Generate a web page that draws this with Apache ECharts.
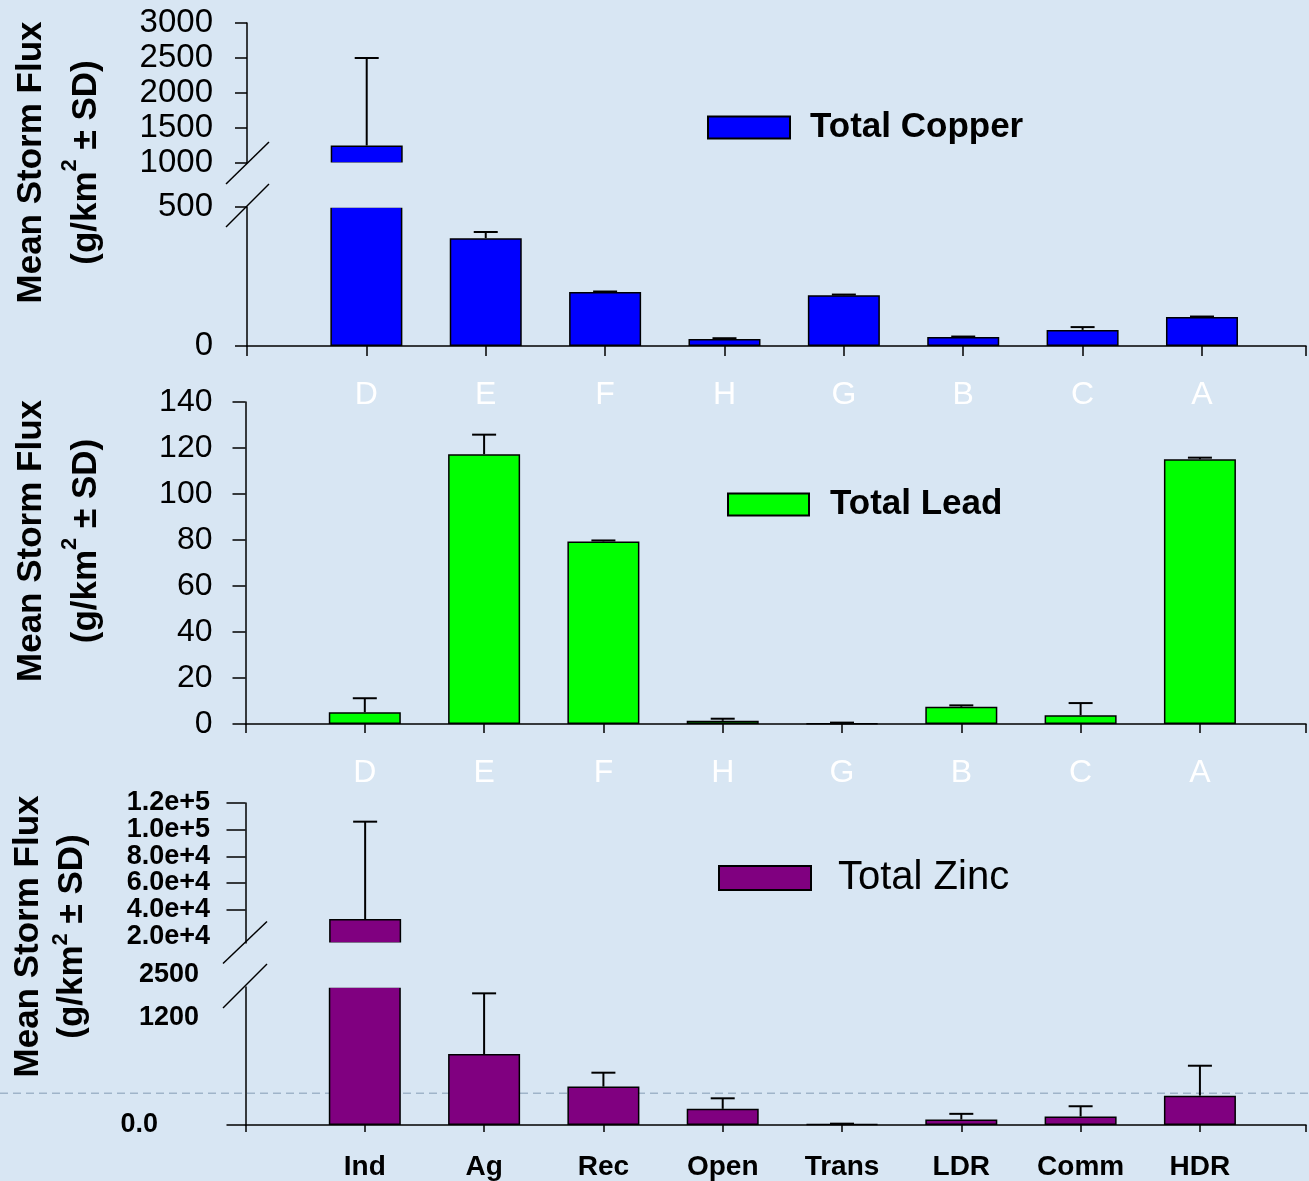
<!DOCTYPE html>
<html><head><meta charset="utf-8">
<script src="https://cdn.jsdelivr.net/npm/echarts@6/dist/echarts.min.js"></script>
<style>html,body{margin:0;padding:0;background:#d8e6f3}#c{width:1309px;height:1181px}</style>
</head><body><div id="c"></div>
<script>
// ---- data ----
const codes = ['D','E','F','H','G','B','C','A'];
const landUses = ['Ind','Ag','Rec','Open','Trans','LDR','Comm','HDR'];
const copperMean = [1250, 388, 194, 25, 183, 32, 58, 104];
const copperSD   = [1250, 22, 2, 3, 2, 2, 10, 2];
const leadMean   = [5.1, 117.3, 79.4, 1.4, 0.3, 7.5, 3.8, 115.1];
const leadSD     = [6.1, 8.5, 0.4, 0.9, 0.3, 0.6, 5.3, 0.7];
const zincMean   = [33000, 795, 430, 181, 10, 61, 95, 329];
const zincSD     = [73000, 680, 156, 118, 5, 64, 115, 335];
const copperUpperTicks = [1000, 1500, 2000, 2500, 3000];
const copperLowerTicks = [0, 500];
const leadTicks = [0, 20, 40, 60, 80, 100, 120, 140];
const zincUpperTicks = [20000, 40000, 60000, 80000, 100000, 120000];
const zincLowerTicks = [0, 1200];
const zincBreakLabel = '2500';

// ---- layout ----
const FF = 'Liberation Sans';
const W = 1309;
const TOPL = 247, MIDL = 245.5, BOTL = 245.5;
const SP_T = 119.71, SP_M = 119.64;
const xmaxT = (W - TOPL) / SP_T - 1;
const xmaxM = (W - MIDL) / SP_M - 1;

const barData = m => m.map((v, i) => [i, v]);
const errData = (m, s) => m.map((v, i) => [i, v, v + s[i]]);

function errRender(params, api) {
  const x = api.value(0), v = api.value(1), t = api.value(2);
  const p0 = api.coord([x, v]), p1 = api.coord([x, t]);
  const st = { stroke: '#000', lineWidth: 2 };
  return { type: 'group', children: [
    { type: 'line', shape: { x1: p0[0], y1: p0[1], x2: p1[0], y2: p1[1] }, style: st },
    { type: 'line', shape: { x1: p1[0] - 12, y1: p1[1], x2: p1[0] + 12, y2: p1[1] }, style: st }
  ]};
}

const axLine = { show: true, onZero: false, lineStyle: { color: '#000', width: 1.5 } };

function xAx(gi, show, xmax, labels, lblStyle, tickLen) {
  return {
    type: 'value', gridIndex: gi, min: -1, max: xmax, interval: 1, show: show,
    splitLine: { show: false },
    axisLine: axLine,
    axisTick: { show: true, length: tickLen, lineStyle: { color: '#000', width: 1.5 } },
    axisLabel: Object.assign({
      formatter: v => (Number.isInteger(v) && v >= 0 && v < labels.length) ? labels[v] : ''
    }, lblStyle)
  };
}

const plain = v => String(v);
const topLbl = { color: '#000', fontSize: 33, fontFamily: FF, margin: 34, formatter: plain, showMinLabel: true, showMaxLabel: true };
const midLbl = { color: '#000', fontSize: 32, fontFamily: FF, margin: 33, formatter: plain, showMinLabel: true, showMaxLabel: true };
const botLbl = { color: '#000', fontSize: 27, fontWeight: 'bold', fontFamily: FF, margin: 35.5, showMinLabel: true, showMaxLabel: true };
const tick = len => ({ show: true, length: len, lineStyle: { color: '#000', width: 1.5 } });

const sci = v => { const e = Math.floor(Math.log10(v)); return (v / Math.pow(10, e)).toFixed(1) + 'e+' + e; };

// zinc upper labels split over two coincident axes (so adjacent labels are never thinned)
const zincLabelsA = zincUpperTicks.filter((v, i) => i % 2 === 0);
const zincLabelsB = zincUpperTicks.filter((v, i) => i % 2 === 1);

const option = {
  backgroundColor: '#d8e6f3',
  animation: false,
  grid: [
    { left: TOPL, top: 23, width: W - TOPL, height: 140 },
    { left: TOPL, top: 207, width: W - TOPL, height: 139 },
    { left: MIDL, top: 402, width: W - MIDL, height: 322 },
    { left: BOTL, top: 803, width: W - BOTL, height: 140 },
    { left: BOTL, top: 987, width: W - BOTL, height: 138.5 }
  ],
  xAxis: [
    xAx(0, false, xmaxT, codes, {}, 10),
    xAx(1, true, xmaxT, codes, { color: '#fff', fontSize: 32, fontFamily: FF, margin: 33 }, 10),
    xAx(2, true, xmaxM, codes, { color: '#fff', fontSize: 32, fontFamily: FF, margin: 33 }, 9),
    xAx(3, false, xmaxM, landUses, {}, 7),
    xAx(4, true, xmaxM, landUses, { color: '#000', fontSize: 28, fontWeight: 'bold', fontFamily: FF, margin: 28 }, 7)
  ],
  yAxis: [
    { type: 'value', gridIndex: 0, min: copperUpperTicks[0], max: copperUpperTicks[copperUpperTicks.length - 1], interval: 500,
      splitLine: { show: false }, axisLine: axLine, axisTick: tick(12), axisLabel: topLbl },
    { type: 'value', gridIndex: 1, min: copperLowerTicks[0], max: copperLowerTicks[1], interval: 500,
      splitLine: { show: false }, axisLine: axLine, axisTick: tick(12), axisLabel: topLbl },
    { type: 'value', gridIndex: 2, min: leadTicks[0], max: leadTicks[leadTicks.length - 1], interval: 20,
      splitLine: { show: false }, axisLine: axLine, axisTick: tick(13), axisLabel: midLbl },
    { type: 'value', gridIndex: 3, position: 'left', min: 15000, max: 120000,
      splitLine: { show: false }, axisLine: axLine,
      axisTick: Object.assign(tick(19), { customValues: zincLabelsA.filter(v => v >= 40000) }),
      axisLabel: Object.assign({ customValues: zincLabelsA, formatter: sci }, botLbl) },
    { type: 'value', gridIndex: 4, min: 0, max: 1546,
      splitLine: { show: false }, axisLine: axLine,
      axisTick: Object.assign(tick(19), { customValues: [0] }),
      axisLabel: Object.assign({}, botLbl, { customValues: zincLowerTicks,
        formatter: v => v === 0 ? '{z|0.0}' : String(v),
        rich: { z: { fontSize: 27, fontWeight: 'bold', fontFamily: FF, color: '#000', padding: [0, 41, 0, 0] } },
        margin: 46.5 }),
      name: zincBreakLabel, nameLocation: 'end', nameGap: 12,
      nameTextStyle: { fontSize: 27, fontWeight: 'bold', fontFamily: FF, color: '#000', align: 'right', verticalAlign: 'middle', padding: [0, 46.5, 0, 0] } },
    { type: 'value', gridIndex: 3, position: 'left', offset: 0, min: 15000, max: 120000,
      splitLine: { show: false }, axisLine: { show: false, onZero: false },
      axisTick: Object.assign(tick(19), { customValues: zincLabelsB.filter(v => v >= 40000) }),
      axisLabel: Object.assign({ customValues: zincLabelsB, formatter: sci }, botLbl) }
  ],
  legend: [
    { data: ['Total Copper'], left: 707, top: 110, padding: 0, itemWidth: 82, itemHeight: 22, icon: 'rect', selectedMode: false,
      textStyle: { fontSize: 35, fontWeight: 'bold', fontFamily: FF, color: '#000', lineHeight: 34, padding: [0, 0, 0, 15] } },
    { data: ['Total Lead'], left: 727, top: 487, padding: 0, itemWidth: 81, itemHeight: 22, icon: 'rect', selectedMode: false,
      textStyle: { fontSize: 35, fontWeight: 'bold', fontFamily: FF, color: '#000', lineHeight: 34, padding: [0, 0, 0, 16] } },
    { data: ['Total Zinc'], left: 718, top: 858, padding: 0, itemWidth: 92, itemHeight: 24, icon: 'rect', selectedMode: false,
      textStyle: { fontSize: 40, fontFamily: FF, color: '#000', lineHeight: 40, padding: [0, 0, 0, 22] } }
  ],
  series: [],
  graphic: []
};

function addPanel(name, color, mean, sd, indices) {
  indices.forEach(k => {
    option.series.push({
      type: 'bar', name: name, xAxisIndex: k, yAxisIndex: k, data: barData(mean), barWidth: 72, clip: true,
      itemStyle: { color: color, borderColor: '#000', borderWidth: 1.5 }, z: 2
    });
    option.series.push({
      type: 'custom', name: name + ' SD', xAxisIndex: k, yAxisIndex: k, data: errData(mean, sd),
      renderItem: errRender, clip: true, z: 3, silent: true
    });
  });
}
addPanel('Total Copper', '#0000ff', copperMean, copperSD, [0, 1]);
addPanel('Total Lead', '#00ff00', leadMean, leadSD, [2]);
addPanel('Total Zinc', '#800080', zincMean, zincSD, [3, 4]);

const titleRich = (lh) => ({
  a: { fontSize: 35, fontWeight: 'bold', fontFamily: FF, fill: '#000', lineHeight: lh },
  s: { fontSize: 22, fontWeight: 'bold', fontFamily: FF, fill: '#000', lineHeight: 24, verticalAlign: 'top' }
});
const titleText = '{a|Mean Storm Flux}\n{a|(g/km}{s|2}{a| \u00b1 SD)}';
function addTitle(x, y, lh) {
  option.graphic.push({ type: 'text', x: x, y: y, rotation: Math.PI / 2, z: 50,
    style: { text: titleText, rich: titleRich(lh), align: 'center', verticalAlign: 'middle', fill: '#000' } });
}
addTitle(58.7, 162.5, 55);
addTitle(58.7, 541, 55);
addTitle(50, 936.5, 44);

// dashed decorative line behind bars
option.graphic.push({ type: 'line', z: 0, shape: { x1: 0, y1: 1093.3, x2: W, y2: 1093.3 },
  style: { stroke: '#9fb4c9', lineWidth: 1.5, lineDash: [8, 5] } });

// axis breaks: gap covers + slashes
const bg = '#d8e6f3';
option.graphic.push({ type: 'rect', z: 100, shape: { x: TOPL + 2, y: 162.6, width: W - TOPL, height: 45.2 }, style: { fill: bg } });
option.graphic.push({ type: 'rect', z: 100, shape: { x: BOTL + 2, y: 942.6, width: W - BOTL, height: 45.2 }, style: { fill: bg } });
const slash = (x1, y1, x2, y2) => option.graphic.push({ type: 'line', z: 101, shape: { x1, y1, x2, y2 }, style: { stroke: '#000', lineWidth: 1.5 } });
slash(226, 184, 269, 142);
slash(226, 227, 269, 184);
slash(223, 963.5, 267, 921.5);
slash(223, 1008, 267, 964);

const chart = echarts.init(document.getElementById('c'), null, { renderer: 'canvas' });
chart.setOption(option);
</script>
</body></html>
